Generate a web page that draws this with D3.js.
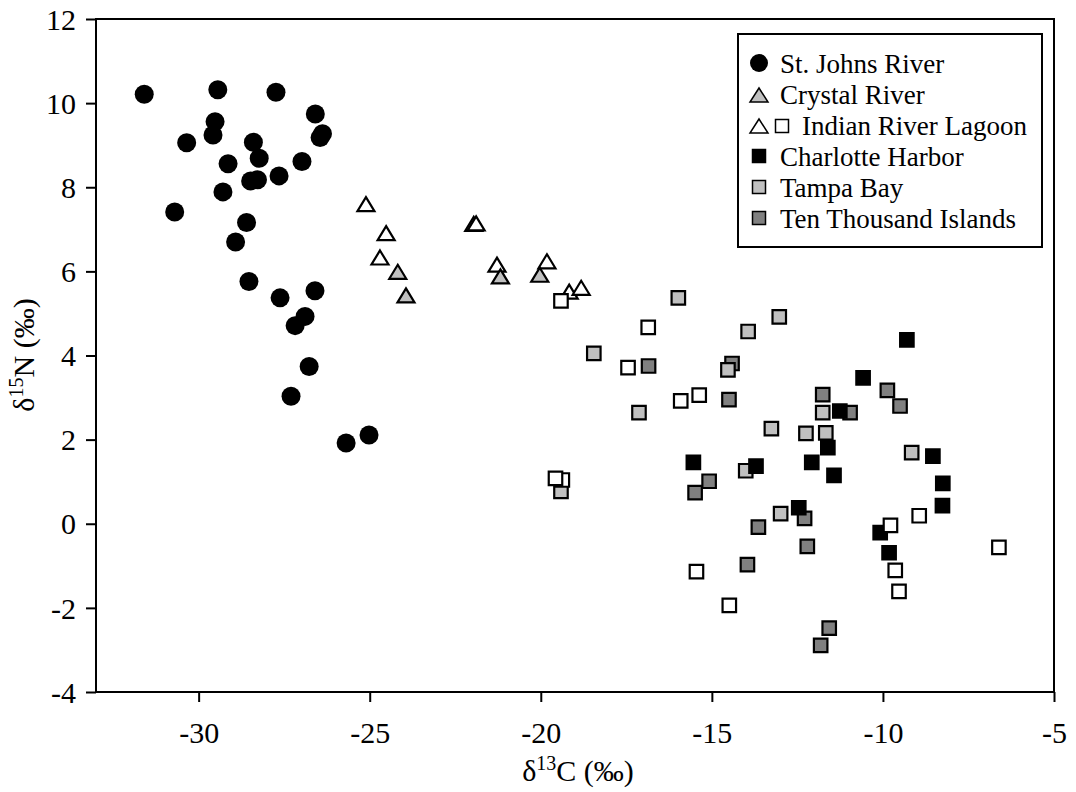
<!DOCTYPE html>
<html>
<head>
<script src="https://d3js.org/d3.v7.min.js"></script>
<style>
  body { margin: 0; background: #fff; }
  svg text { font-family: "Liberation Serif", "Times New Roman", serif; fill: #000; }
</style>
</head>
<body>
<svg class="chart"></svg>
<script>
// values: [d13C, d15N]
var stJohns = [
  [-31.59, 10.21], [-29.44, 10.32], [-27.74, 10.26], [-26.59, 9.74], [-29.52, 9.56],
  [-29.58, 9.24], [-30.35, 9.06], [-28.40, 9.07], [-26.45, 9.18], [-26.38, 9.27],
  [-28.23, 8.69], [-29.14, 8.56], [-26.98, 8.61], [-27.65, 8.27], [-28.48, 8.15],
  [-28.28, 8.18], [-29.29, 7.89], [-30.70, 7.41], [-28.60, 7.16], [-28.92, 6.70],
  [-28.53, 5.76], [-27.62, 5.37], [-26.60, 5.54], [-26.89, 4.93], [-27.18, 4.71],
  [-26.77, 3.74], [-27.30, 3.03], [-25.02, 2.11], [-25.69, 1.92]
];
var irlTriangles = [
  [-25.11, 7.60], [-24.52, 6.91], [-24.70, 6.33], [-21.96, 7.13], [-21.89, 7.14],
  [-21.28, 6.16], [-19.82, 6.24], [-19.17, 5.52], [-18.82, 5.61]
];
var crystal = [
  [-24.18, 5.99], [-23.94, 5.43], [-21.18, 5.88], [-20.03, 5.92]
];
var tenThousand = [
  [-16.85, 3.75], [-14.41, 3.81], [-14.50, 2.95], [-11.76, 3.07], [-9.87, 3.17],
  [-9.50, 2.80], [-10.96, 2.64], [-15.08, 1.01], [-15.49, 0.74], [-12.29, 0.13],
  [-13.64, -0.08], [-12.21, -0.54], [-13.96, -0.97], [-11.57, -2.48], [-11.82, -2.89]
];
var tampa = [
  [-15.98, 5.37], [-13.03, 4.92], [-13.94, 4.57], [-18.45, 4.05], [-14.53, 3.66],
  [-17.13, 2.64], [-13.26, 2.26], [-12.25, 2.15], [-11.67, 2.16], [-11.76, 2.64],
  [-9.16, 1.69], [-14.01, 1.26], [-12.99, 0.24], [-19.41, 0.77]
];
var charlotte = [
  [-9.30, 4.37], [-10.58, 3.47], [-11.26, 2.68], [-11.61, 1.81], [-12.08, 1.46],
  [-11.43, 1.15], [-15.54, 1.46], [-13.71, 1.37], [-12.46, 0.38], [-8.54, 1.61],
  [-8.25, 0.96], [-8.26, 0.43], [-10.08, -0.21], [-9.82, -0.69]
];
var irlSquares = [
  [-19.41, 5.30], [-16.86, 4.67], [-17.45, 3.71], [-15.91, 2.92], [-15.37, 3.06],
  [-19.37, 1.04], [-19.57, 1.08], [-15.45, -1.14], [-14.49, -1.94], [-9.78, -0.04],
  [-8.94, 0.19], [-9.64, -1.11], [-9.53, -1.61], [-6.61, -0.56]
];
var xTicks = [-30, -25, -20, -15, -10, -5];
var yTicks = [-4, -2, 0, 2, 4, 6, 8, 10, 12];
var legendNames = ["St. Johns River", "Crystal River", "Indian River Lagoon",
                   "Charlotte Harbor", "Tampa Bay", "Ten Thousand Islands"];

var serif = '"Liberation Serif", "Times New Roman", serif';
var svgWidth = 1076, svgHeight = 792,
    plotLeft = 96, plotRight = 1054, plotTop = 19, plotBottom = 692;

var svg = d3.select(".chart").attr("width", svgWidth).attr("height", svgHeight);

var xScale = d3.scaleLinear().domain([-33, -5]).range([plotLeft, plotRight]),
    yScale = d3.scaleLinear().domain([-4, 12]).range([plotBottom, plotTop]);

var xAxis = d3.axisBottom(xScale).tickValues(xTicks).tickFormat(d => String(d))
              .tickSize(10).tickPadding(12),
    yAxis = d3.axisLeft(yScale).tickValues(yTicks).tickFormat(d => String(d))
              .tickSize(10).tickPadding(10);

var gx = svg.append("g").attr("transform", "translate(0," + plotBottom + ")").call(xAxis);
var gy = svg.append("g").attr("transform", "translate(" + plotLeft + ",0)").call(yAxis);
[gx, gy].forEach(function (g) {
  g.attr("font-family", serif).attr("font-size", 30);
  g.select(".domain").remove();
  g.selectAll(".tick line").attr("stroke", "#000").attr("stroke-width", 2);
  g.selectAll(".tick text").style("font-family", serif).style("font-size", "30px")
    .attr("fill", "#000");
});
gx.selectAll(".tick text").attr("dy", "0.95em");
gy.selectAll(".tick text").attr("dy", "0.34em");

// frame
svg.append("rect")
    .attr("x", plotLeft).attr("y", plotTop)
    .attr("width", plotRight - plotLeft).attr("height", plotBottom - plotTop)
    .attr("fill", "none").attr("stroke", "#000").attr("stroke-width", 2);

// marker shapes
function square(s) {
  return "M" + (-s / 2) + "," + (-s / 2) + "h" + s + "v" + s + "h" + (-s) + "Z";
}
function triangle(w, h) {
  return "M0," + (-h / 2) + "L" + (w / 2) + "," + (h / 2) + "L" + (-w / 2) + "," + (h / 2) + "Z";
}
function tr(d) { return "translate(" + xScale(d[0]) + "," + yScale(d[1]) + ")"; }

svg.append("g").selectAll("circle").data(stJohns).enter().append("circle")
    .attr("cx", d => xScale(d[0])).attr("cy", d => yScale(d[1]))
    .attr("r", 9.5).attr("fill", "#000");

function drawMarks(data, path, fill, stroke) {
  svg.append("g").selectAll("path").data(data).enter().append("path")
      .attr("d", path).attr("transform", tr)
      .attr("fill", fill).attr("stroke", stroke).attr("stroke-width", 2.2)
      .attr("stroke-linejoin", "miter");
}
drawMarks(irlTriangles, triangle(17, 14), "#fff", "#000");
drawMarks(crystal, triangle(17, 14), "#c0c0c0", "#000");
drawMarks(tenThousand, square(13.5), "#808080", "#000");
drawMarks(tampa, square(13.5), "#c0c0c0", "#000");
drawMarks(charlotte, square(13.5), "#000", "#000");
drawMarks(irlSquares, square(13.5), "#fff", "#000");

// axis titles
var xt = svg.append("text").attr("x", 578).attr("y", 781)
    .attr("text-anchor", "middle").style("font-family", serif).style("font-size", "30px");
xt.append("tspan").text("δ");
xt.append("tspan").attr("dy", -11).style("font-size", "20px").text("13");
xt.append("tspan").attr("dy", 11).text("C (‰)");

var yt = svg.append("text").attr("transform", "translate(34,355) rotate(-90)")
    .attr("text-anchor", "middle").style("font-family", serif).style("font-size", "30px");
yt.append("tspan").text("δ");
yt.append("tspan").attr("dy", -11).style("font-size", "20px").text("15");
yt.append("tspan").attr("dy", 11).text("N (‰)");

// legend
var lg = svg.append("g");
lg.append("rect").attr("x", 738).attr("y", 34).attr("width", 304).attr("height", 213)
    .attr("fill", "#fff").attr("stroke", "#000").attr("stroke-width", 2);

var rowY = d3.range(legendNames.length).map(i => 63 + i * 31);
lg.append("circle").attr("cx", 759).attr("cy", rowY[0]).attr("r", 9).attr("fill", "#000");
function legMark(x, y, path, fill) {
  lg.append("path").attr("d", path).attr("transform", "translate(" + x + "," + y + ")")
    .attr("fill", fill).attr("stroke", "#000").attr("stroke-width", 1.5);
}
legMark(759, rowY[1] + 1, triangle(18, 14), "#c0c0c0");
legMark(759, rowY[2] + 1, triangle(18, 14), "#fff");
legMark(782, rowY[2] + 1, square(13), "#fff");
legMark(759, rowY[3], square(13), "#000");
legMark(759, rowY[4], square(13), "#c0c0c0");
legMark(759, rowY[5], square(13), "#808080");

legendNames.forEach(function (name, i) {
  lg.append("text").attr("x", i === 2 ? 802 : 780).attr("y", rowY[i] + 10)
    .style("font-family", serif).style("font-size", "27px").text(name);
});
</script>
</body>
</html>
